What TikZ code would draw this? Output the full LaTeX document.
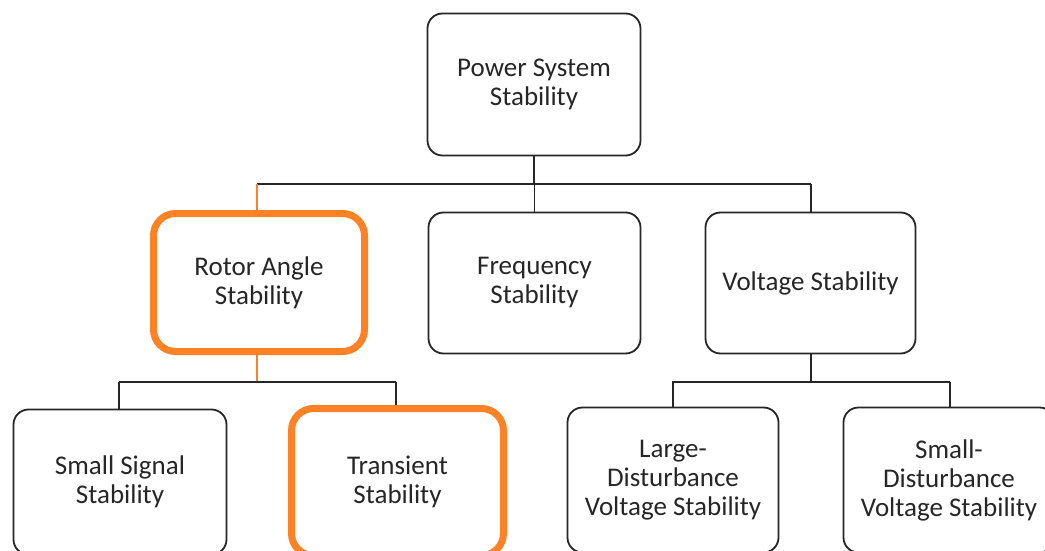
\documentclass[tikz,border=0pt]{standalone}
\usepackage{fontspec}
\setmainfont{Carlito}
\definecolor{boxline}{RGB}{38,38,38}
\definecolor{txt}{RGB}{38,38,38}
\definecolor{hl}{RGB}{253,130,38}
\tikzset{
  box/.style={draw=boxline, line width=1.8pt, rounded corners=15pt, inner sep=0pt,
    align=center, text=txt, font=\fontsize{27}{29}\selectfont},
  hlbox/.style={box, draw=hl, line width=7pt, rounded corners=22pt},
  conn/.style={draw=boxline, line width=1.6pt},
  hlconn/.style={draw=hl, line width=1.6pt}
}
\begin{document}
\begin{tikzpicture}[x=1pt,y=-1pt]
\useasboundingbox (0,0) rectangle (1045,551);
\clip (0,0) rectangle (1045,551);
\fill[white] (0,0) rectangle (1045,551);
\node[box, minimum width=213pt, minimum height=142pt] (ps) at (534,84.5) {Power System\\Stability};
\node[hlbox, minimum width=211pt, minimum height=138pt] (ra) at (259,282.5) {Rotor Angle\\Stability};
\node[box, minimum width=212pt, minimum height=141pt] (fs) at (534.5,283) {Frequency\\Stability};
\node[box, minimum width=210pt, minimum height=141pt] (vs) at (810.5,283) {Voltage Stability};
\node[box, minimum width=213pt, minimum height=145pt] (ss) at (120,482) {Small Signal\\Stability};
\node[hlbox, minimum width=212pt, minimum height=147pt] (ts) at (397.5,482) {Transient\\Stability};
\node[box, minimum width=211pt, minimum height=145pt] (ld) at (673,480) {Large-\\Disturbance\\Voltage Stability};
\node[box, minimum width=211pt, minimum height=145pt] (sd) at (949,480) {Small-\\Disturbance\\Voltage Stability};
\coordinate (j1) at (534,184);
\coordinate (j2) at (257,382);
\coordinate (j3) at (811,382);
% top level
\draw[conn] (ps.south) -- (j1);
\draw[conn] (257,184) -- (811,184);
\draw[hlconn] (257,184) -- (257,210);
\draw[conn] (fs.north |- j1) -- (fs.north);
\draw[conn] (811,184) -- (811,212.5);
% rotor angle
\draw[hlconn] (257,355) -- (j2);
\draw[conn] (119,382) -- (396,382);
\draw[conn] (119,382) -- (119,409.5);
\draw[conn] (396,382) -- (396,405);
% voltage
\draw[conn] (vs.south -| j3) -- (j3);
\draw[conn] (672,382) -- (950,382);
\draw[conn] (ld.north |- j3) -- (ld.north);
\draw[conn] (950,382) -- (950,407.5);
\end{tikzpicture}
\end{document}
